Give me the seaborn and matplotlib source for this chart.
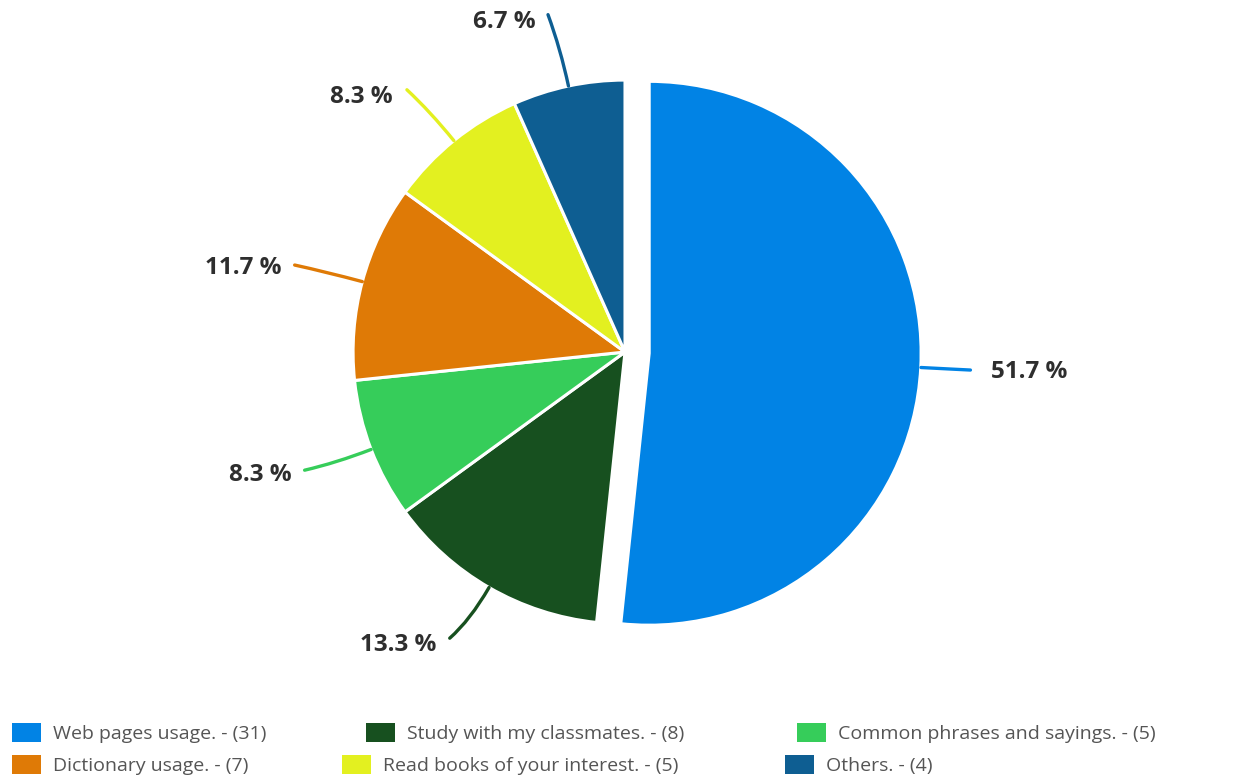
import matplotlib
matplotlib.use("Agg")
import matplotlib.pyplot as plt
from matplotlib.path import Path
from matplotlib.patches import PathPatch, Patch
import numpy as np
import seaborn as sns

# Survey answers (counts), listed clockwise from 12 o'clock
categories = [
    "Web pages usage.",
    "Study with my classmates.",
    "Common phrases and sayings.",
    "Dictionary usage.",
    "Read books of your interest.",
    "Others.",
]
counts = [31, 8, 5, 7, 5, 4]
hex_colors = ["#0183E5", "#17501F", "#36CD5A", "#DF7A06", "#E3F020", "#0E5E92"]

sns.set_theme(style="white")
plt.rcParams["font.family"] = ["Open Sans", "DejaVu Sans"]

palette = sns.color_palette(hex_colors)
total = sum(counts)
pcts = [c / total * 100 for c in counts]

fig = plt.figure(figsize=(12.55, 7.8), dpi=100)
# square axes (700x700 px) centred on the pie
ax = fig.add_axes([275 / 1255, 78 / 780, 700 / 1255, 700 / 780])

R = 1.01
explode = [0.09, 0, 0, 0, 0, 0]
wedges, _ = ax.pie(
    counts, colors=palette, startangle=90, counterclock=False,
    explode=explode, radius=R,
    wedgeprops=dict(edgecolor="white", linewidth=2.2),
)
ax.set_xlim(-1.3, 1.3)
ax.set_ylim(-1.3, 1.3)
ax.axis("off")

# label anchor (text right/left edge) and leader line end, per slice
label_pos = [
    (1.36, -0.074, "left"),
    (-0.70, -1.089, "right"),
    (-1.24, -0.457, "right"),
    (-1.275, 0.312, "right"),
    (-0.862, 0.948, "right"),
    (-0.331, 1.227, "right"),
]
line_end = [
    (1.283, -0.067),
    (-0.651, -1.063),
    (-1.19, -0.439),
    (-1.227, 0.323),
    (-0.81, 0.974),
    (-0.286, 1.253),
]

for w, p, ex, (tx, ty, ha), (ex_, ey_), col in zip(
        wedges, pcts, explode, label_pos, line_end, palette):
    mid = np.deg2rad((w.theta1 + w.theta2) / 2)
    r0 = R + ex * R
    sx, sy = r0 * np.cos(mid), r0 * np.sin(mid)
    cr = r0 + 0.14
    cx, cy = cr * np.cos(mid), cr * np.sin(mid)
    path = Path([(sx, sy), (cx, cy), (ex_, ey_)],
                [Path.MOVETO, Path.CURVE3, Path.CURVE3])
    ax.add_patch(PathPatch(path, facecolor="none", edgecolor=col,
                           linewidth=2.4, capstyle="round"))
    ax.text(tx, ty, f"{p:.1f} %", ha=ha, va="center", fontsize=17.5,
            fontweight="bold", color="#2e2e2e")

# legend: one entry per item, laid out as two flowing rows
handles = [Patch(facecolor=c, edgecolor="none") for c in palette]
labels = [f"{n} - ({c})" for n, c in zip(categories, counts)]
item_x = [12, 366, 797, 12, 342, 785]
item_y = [733, 733, 733, 765, 765, 765]
for h, lab, x, y in zip(handles, labels, item_x, item_y):
    fig.legend(
        [h], [lab], loc="center left",
        bbox_to_anchor=(x / 1255, 1 - y / 780),
        frameon=False, fontsize=14, labelcolor="#555555",
        handlelength=1.5, handleheight=1.15, handletextpad=0.62,
        borderpad=0, borderaxespad=0,
    )

fig.savefig("out.png", dpi=100)
